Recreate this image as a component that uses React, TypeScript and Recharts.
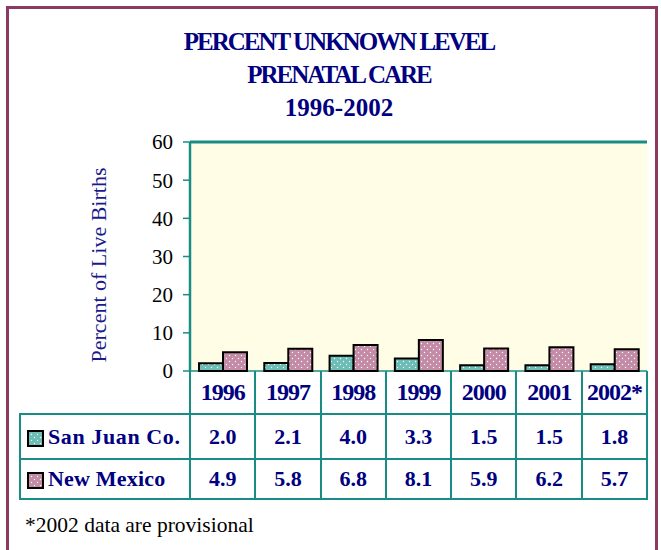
import { BarChart, Bar, XAxis, YAxis, CartesianGrid, ReferenceLine } from 'recharts';

const years = ['1996', '1997', '1998', '1999', '2000', '2001', '2002*'];
const sanJuan = [2.0, 2.1, 4.0, 3.3, 1.5, 1.5, 1.8];
const newMexico = [4.9, 5.8, 6.8, 8.1, 5.9, 6.2, 5.7];
const yTicks = [0, 10, 20, 30, 40, 50, 60];
const titleLines = ['PERCENT UNKNOWN LEVEL', 'PRENATAL CARE', '1996-2002'];

const NAVY = '#000080';
const TEAL = '#1a8c86';
const TEAL_FILL = '#6cbdb6';
const PINK_FILL = '#c48ba6';
const FONT = '"Liberation Serif", "Times New Roman", serif';

const chartData = years.map((y, i) => ({ year: y, sj: sanJuan[i], nm: newMexico[i] }));

function DotPattern({ id, color }: { id: string; color: string }) {
  return (
    <pattern id={id} width="6" height="6" patternUnits="userSpaceOnUse">
      <rect width="6" height="6" fill={color} />
      <circle cx="1.5" cy="1.5" r="0.7" fill="#fff" />
      <circle cx="4.5" cy="4.5" r="0.7" fill="#fff" />
    </pattern>
  );
}

function LegendBox({ id, color }: { id: string; color: string }) {
  return (
    <svg width="17" height="17" style={{ verticalAlign: 'middle', marginRight: 4 }}>
      <defs>
        <DotPattern id={id} color={color} />
      </defs>
      <rect x="1" y="1" width="15" height="15" fill={`url(#${id})`} stroke="#000" strokeWidth="2" />
    </svg>
  );
}

// rotated axis title, placed by hand to the left of the tick labels
const YLabel = () => {
  const cx = 98;
  const cy = 265;
  return (
    <text x={cx} y={cy} transform={`rotate(-90, ${cx}, ${cy})`} textAnchor="middle" dominantBaseline="central"
      fill="#1a1a8c" fontSize={22} fontFamily={FONT}>
      Percent of Live Births
    </text>
  );
};

const colW = 65.3;
const cellBorder = `2px solid ${TEAL}`;

export default function App() {
  return (
    <div style={{ position: 'absolute', left: 0, top: 0, width: 661, height: 550, overflow: 'hidden', background: '#fff', fontFamily: FONT }}>
      <div style={{ position: 'absolute', left: 6, top: 6, width: 652, height: 570, border: '3.5px solid #8b3a62', boxSizing: 'border-box' }} />
      {titleLines.map((t, i) => (
        <div key={t} style={{
          position: 'absolute', left: 0, width: 678, top: 28 + i * 33, textAlign: 'center',
          color: NAVY, fontWeight: 'bold', fontSize: 25, lineHeight: '28px',
          letterSpacing: i < 2 ? -2 : 0,
        }}>{t}</div>
      ))}

      <div style={{ position: 'absolute', left: 0, top: 0 }}>
        <BarChart width={661} height={550} data={chartData} margin={{ top: 142, right: 14, bottom: 179, left: 0 }}
          barSize={24} barGap={0}>
          <defs>
            <DotPattern id="tealDots" color={TEAL_FILL} />
            <DotPattern id="pinkDots" color={PINK_FILL} />
          </defs>
          <CartesianGrid vertical={false} stroke={TEAL} strokeWidth={1.5} fill="#fffde6" fillOpacity={1} />
          <XAxis dataKey="year" tick={false} tickLine={false} height={0} axisLine={{ stroke: TEAL, strokeWidth: 3 }} />
          <YAxis yAxisId="left" width={190} domain={[0, 60]} ticks={yTicks} interval={0}
            axisLine={{ stroke: TEAL, strokeWidth: 2.5 }} tickLine={{ stroke: TEAL, strokeWidth: 1.5 }}
            tickSize={7} tickMargin={10}
            tick={{ fill: '#000', fontSize: 21, fontFamily: FONT }}
            label={<YLabel />} />
          <YAxis yAxisId="right" orientation="right" width={0} domain={[0, 60]} tick={false} tickLine={false}
            axisLine={{ stroke: TEAL, strokeWidth: 3 }} />
          <ReferenceLine yAxisId="left" y={60} stroke={TEAL} strokeWidth={3} />
          <Bar yAxisId="left" dataKey="sj" fill="url(#tealDots)" stroke="#000" strokeWidth={2} isAnimationActive={false} />
          <Bar yAxisId="left" dataKey="nm" fill="url(#pinkDots)" stroke="#000" strokeWidth={2} isAnimationActive={false} />
        </BarChart>
      </div>

      <table style={{
        position: 'absolute', left: 19, top: 371, borderCollapse: 'collapse', tableLayout: 'fixed',
        width: 170 + colW * 7, color: NAVY, fontWeight: 'bold', fontFamily: FONT,
      }}>
        <colgroup>
          <col style={{ width: 170 }} />
          {years.map((y) => <col key={y} style={{ width: colW }} />)}
        </colgroup>
        <tbody>
          <tr style={{ height: 43 }}>
            <td style={{ padding: 0 }} />
            {years.map((y) => (
              <td key={y} style={{ border: cellBorder, borderTop: 'none', textAlign: 'center', fontSize: 24, letterSpacing: -1, padding: 0 }}>{y}</td>
            ))}
          </tr>
          <tr style={{ height: 45 }}>
            <td style={{ border: cellBorder, padding: '0 0 0 6px', fontSize: 22, letterSpacing: 0.6, whiteSpace: 'nowrap' }}>
              <LegendBox id="lgTeal" color={TEAL_FILL} />San Juan Co.
            </td>
            {sanJuan.map((v, i) => (
              <td key={i} style={{ border: cellBorder, textAlign: 'center', fontSize: 22, padding: 0 }}>{v.toFixed(1)}</td>
            ))}
          </tr>
          <tr style={{ height: 40 }}>
            <td style={{ border: cellBorder, padding: '0 0 0 6px', fontSize: 22, letterSpacing: 0.2, whiteSpace: 'nowrap' }}>
              <LegendBox id="lgPink" color={PINK_FILL} />New Mexico
            </td>
            {newMexico.map((v, i) => (
              <td key={i} style={{ border: cellBorder, textAlign: 'center', fontSize: 22, padding: 0 }}>{v.toFixed(1)}</td>
            ))}
          </tr>
        </tbody>
      </table>

      <div style={{ position: 'absolute', left: 25, top: 511, fontSize: 21.5, color: '#000', lineHeight: '28px' }}>
        *2002 data are provisional
      </div>
    </div>
  );
}
